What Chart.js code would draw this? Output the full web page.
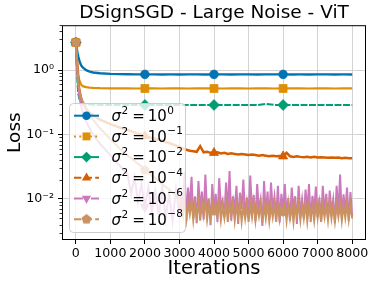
<!DOCTYPE html>
<html><head><meta charset="utf-8">
<script src="https://cdn.jsdelivr.net/npm/chart.js@4.4.0/dist/chart.umd.min.js"></script>
<style>html,body{margin:0;padding:0;background:#fff}</style>
</head><body>
<canvas id="c" width="374" height="286"></canvas>
<script>
// ---------------- DATA ----------------
const chartTitle = 'DSignSGD - Large Noise - ViT';
const xTitle = 'Iterations';
const yTitle = 'Loss';
const xTickValues = [0,1000,2000,3000,4000,5000,6000,7000,8000];
const xTickLabels = ['0','1000','2000','3000','4000','5000','6000','7000','8000'];
const yTickValues = [0.01,0.1,1];
const yTickLabels = ['10⁻²','10⁻¹','10⁰'];
const sigmaExponents = ['0','−1','−2','−4','−6','−8'];
const markerIters = [0,2000,4000,6000];

const itersSmooth = [0,25,50,75,100,150,200,300,400,500,700,1000,1250,1500,1750,2000,2250,2500,2750,3000,3250,3500,3750,4000,4250,4500,4750,5000,5250,5500,5750,6000,6250,6500,6750,7000,7250,7500,7750,8000];
const lossSigma1e0 = [2.7,2.2,1.85,1.6,1.42,1.2,1.1,1.0,0.95,0.92,0.895,0.875,0.868,0.865,0.862,0.86,0.862,0.858,0.861,0.859,0.862,0.86,0.858,0.86,0.861,0.859,0.862,0.86,0.858,0.861,0.86,0.86,0.859,0.861,0.858,0.86,0.861,0.859,0.86,0.858];
const lossSigma1e1 = [2.7,1.7,1.15,0.85,0.7,0.6,0.565,0.545,0.535,0.53,0.525,0.522,0.52,0.521,0.519,0.52,0.521,0.519,0.52,0.52,0.519,0.521,0.52,0.52,0.519,0.52,0.521,0.519,0.52,0.52,0.519,0.52,0.52,0.521,0.519,0.52,0.52,0.519,0.521,0.52];
const lossSigma1e2 = [2.7,1.2,0.6,0.42,0.36,0.32,0.305,0.295,0.292,0.29,0.289,0.289,0.288,0.289,0.288,0.288,0.289,0.288,0.287,0.289,0.288,0.287,0.288,0.288,0.289,0.287,0.288,0.288,0.287,0.3,0.288,0.288,0.287,0.288,0.287,0.288,0.288,0.287,0.288,0.287];

const itersMid = [0,25,50,75,100,150,200,300,400,500,700,1000,1250,1500,1750,2000,2250,2500,2750,3000,
3100,3200,3300,3400,3500,3600,3700,3800,3900,4000,4100,4200,4300,4400,4500,4600,4700,4800,4900,5000,
5100,5200,5300,5400,5500,5600,5700,5800,5900,6000,6100,6200,6300,6400,6500,6600,6700,6800,6900,7000,
7100,7200,7300,7400,7500,7600,7700,7800,7900,8000];
const lossSigma1e4 = [2.7,1.6,0.95,0.65,0.5,0.37,0.31,0.25,0.22,0.2,0.17,0.145,0.13,0.118,0.105,0.095,0.087,0.08,0.072,0.065,
0.061,0.058,0.056,0.055,0.054,0.066,0.053,0.054,0.052,0.052,0.053,0.051,0.052,0.05,0.051,0.05,0.049,0.05,0.049,0.048,
0.049,0.048,0.047,0.048,0.047,0.046,0.047,0.046,0.0465,0.046,0.052,0.046,0.045,0.046,0.045,0.0445,0.045,0.044,0.045,0.044,
0.0445,0.044,0.0435,0.044,0.0435,0.044,0.043,0.0435,0.043,0.043];

const itersFine = [0,25,50,75,100,150,200,300,400,500,700,1000,1250,
1500,1600,1700,1800,1900,2000,2100,2200,2300,2400,2500,2600,2700,2800,2900,3000,
3050,3100,3150,3200,3250,3300,3350,3400,3450,3500,3550,3600,3650,3700,3750,3800,3850,3900,3950,4000,
4050,4100,4150,4200,4250,4300,4350,4400,4450,4500,4550,4600,4650,4700,4750,4800,4850,4900,4950,5000,
5050,5100,5150,5200,5250,5300,5350,5400,5450,5500,5550,5600,5650,5700,5750,5800,5850,5900,5950,6000,
6050,6100,6150,6200,6250,6300,6350,6400,6450,6500,6550,6600,6650,6700,6750,6800,6850,6900,6950,7000,
7050,7100,7150,7200,7250,7300,7350,7400,7450,7500,7550,7600,7650,7700,7750,7800,7850,7900,7950,8000];
const lossSigma1e6 = [2.7,1.5,0.85,0.55,0.4,0.28,0.22,0.16,0.125,0.1,0.072,0.048,0.034,
0.024,0.012,0.022,0.009,0.017,0.0075,0.015,0.006,0.013,0.0055,0.016,0.005,0.012,0.0045,0.014,0.0058,
0.012,0.006,0.026,0.0045,0.015,0.007,0.022,0.005,0.011,0.0042,0.019,0.0065,0.013,0.0048,0.024,0.006,0.01,0.0039,0.017,0.0068,
0.012,0.0044,0.021,0.0075,0.0095,0.0052,0.018,0.0058,0.027,0.0046,0.011,0.0063,0.016,0.0041,0.0125,0.007,0.02,0.0049,0.0105,0.0057,
0.023,0.0062,0.0115,0.0045,0.017,0.0068,0.0098,0.0038,0.019,0.0055,0.013,0.0047,0.018,0.0066,0.0108,0.0052,0.016,0.0043,0.012,0.0064,
0.017,0.0056,0.0102,0.0046,0.015,0.0069,0.011,0.0041,0.016,0.0058,0.0098,0.0049,0.014,0.0062,0.017,0.0044,0.0112,0.0066,0.0155,0.0052,
0.0105,0.0045,0.016,0.006,0.012,0.0048,0.0135,0.0063,0.0098,0.0042,0.016,0.0057,0.024,0.005,0.0118,0.0061,0.015,0.0046,0.0128,0.0054];
const lossSigma1e8 = [2.7,1.7,1.0,0.65,0.5,0.38,0.32,0.26,0.21,0.17,0.125,0.085,0.062,
0.047,0.043,0.039,0.035,0.032,0.028,0.026,0.023,0.021,0.019,0.017,0.0155,0.014,0.0125,0.0112,0.0102,
0.0088,0.0055,0.0095,0.0049,0.0085,0.0058,0.0092,0.0047,0.0082,0.0053,0.009,0.0046,0.0086,0.0056,0.0094,0.0048,0.008,0.0052,0.0089,0.0065,
0.0084,0.0054,0.0091,0.0047,0.0079,0.0051,0.0087,0.0044,0.0083,0.0055,0.0088,0.0046,0.0081,0.0053,0.009,0.0045,0.0078,0.005,0.0086,0.0044,
0.0082,0.0052,0.0089,0.0046,0.0077,0.0054,0.0085,0.0043,0.008,0.005,0.0087,0.0045,0.0079,0.0052,0.0084,0.0044,0.0088,0.0049,0.0076,0.0064,
0.0083,0.0046,0.0086,0.0051,0.0078,0.0044,0.0082,0.0054,0.0087,0.0047,0.0079,0.005,0.0085,0.0045,0.0081,0.0053,0.0076,0.0046,0.0084,0.0051,
0.0086,0.0044,0.0078,0.0052,0.0083,0.0047,0.0088,0.005,0.0077,0.0045,0.0082,0.0053,0.0085,0.0046,0.0079,0.0051,0.0087,0.0048,0.0081,0.005];

const seriesColors = ['#0173b2','#de8f05','#029e73','#d55e00','#cc78bc','#ca9161'];

// ---------------- helpers ----------------
function pts(xs, ys){ return xs.map((x,i)=>({x:x,y:ys[i]})); }
function pentagon(color, r){
  const c=document.createElement('canvas'); const s=Math.ceil(2*r+2); c.width=s; c.height=s;
  const g=c.getContext('2d'); g.fillStyle=color; g.beginPath();
  for(let k=0;k<5;k++){const a=-Math.PI/2+k*2*Math.PI/5; const px=s/2+r*Math.cos(a), py=s/2+r*Math.sin(a); k?g.lineTo(px,py):g.moveTo(px,py);}
  g.closePath(); g.fill(); return c;
}
const pentaImg = pentagon(seriesColors[5], 5.2);

const styles = [
 {style:'circle', rot:0, r:4.3, plotDash:[], legendDash:[], bw:2.4},
 {style:'rect', rot:0, r:5.6, plotDash:[], legendDash:[2,3.3], bw:2.2},
 {style:'rectRot', rot:0, r:5.4, plotDash:[7,1.5], legendDash:[], bw:2},
 {style:'triangle', rot:0, r:5.3, plotDash:[], legendDash:[7.4,3.2], bw:2.5},
 {style:'triangle', rot:180, r:5.3, plotDash:[], legendDash:[9,3,2,3], bw:2},
 {style:pentaImg, rot:0, r:5, plotDash:[], legendDash:[7.4,3.2], bw:2}
];
const seriesData = [
 pts(itersSmooth,lossSigma1e0), pts(itersSmooth,lossSigma1e1), pts(itersSmooth,lossSigma1e2),
 pts(itersMid,lossSigma1e4), pts(itersFine,lossSigma1e6), pts(itersFine,lossSigma1e8)
];
const datasets = seriesData.map((d,i)=>({
  label:'σ² = 10'+sigmaExponents[i],
  data:d,
  borderColor:seriesColors[i], backgroundColor:seriesColors[i],
  borderWidth:styles[i].bw, borderDash:styles[i].plotDash,
  pointStyle:styles[i].style, pointRotation:styles[i].rot,
  pointRadius:(ctx)=> (ctx.raw && markerIters.includes(ctx.raw.x)) ? styles[i].r : 0,
  pointBorderWidth:0.8, pointBorderColor:seriesColors[i], pointBackgroundColor:seriesColors[i],
  tension:0, order:5-i, fill:false
}));

// ---------------- plugins ----------------
const framePlugin = {
  id:'frame',
  afterDatasetsDraw(chart){
    const {ctx, chartArea:a, scales} = chart;
    ctx.save();
    ctx.strokeStyle='#000'; ctx.lineWidth=1;
    ctx.strokeRect(a.left+0.5,a.top+0.5,a.right-a.left-1,a.bottom-a.top-1);
    const ys=scales.y; ctx.lineWidth=0.8; ctx.beginPath();
    for(let d=-3; d<=1; d++){ for(let k=2;k<=9;k++){ const v=k*Math.pow(10,d);
      if(v<ys.min||v>ys.max) continue; const py=Math.round(ys.getPixelForValue(v))+0.5;
      ctx.moveTo(a.left-2.5,py); ctx.lineTo(a.left,py);} }
    ctx.stroke();
    ctx.restore();
  }
};
function drawMarker(ctx, st, color, x, y){
  ctx.fillStyle=color;
  if(st.style instanceof HTMLCanvasElement){ ctx.drawImage(st.style, x-st.style.width/2, y-st.style.height/2); return; }
  const r=st.r; ctx.beginPath();
  if(st.style==='circle'){ ctx.arc(x,y,r,0,2*Math.PI); }
  else if(st.style==='rect'){ const h=r*Math.SQRT1_2; ctx.rect(x-h,y-h,2*h,2*h); }
  else if(st.style==='rectRot'){ ctx.moveTo(x,y-r); ctx.lineTo(x+r,y); ctx.lineTo(x,y+r); ctx.lineTo(x-r,y); ctx.closePath(); }
  else if(st.style==='triangle'){
    const s = st.rot===180 ? -1 : 1;
    for(let k=0;k<3;k++){ const a=-Math.PI/2+k*2*Math.PI/3; const px=x+r*Math.cos(a), py=y+s*r*Math.sin(a); k?ctx.lineTo(px,py):ctx.moveTo(px,py);} ctx.closePath();
  }
  ctx.fill();
}
const legendPlugin = {
  id:'innerLegend',
  afterDraw(chart){
    const ctx=chart.ctx; ctx.save();
    const x0=69.5,y0=103.5,w=116,h=129;
    ctx.beginPath(); ctx.roundRect(x0,y0,w,h,4);
    ctx.fillStyle='rgba(255,255,255,0.8)'; ctx.fill();
    ctx.strokeStyle='#cccccc'; ctx.lineWidth=1; ctx.stroke();
    chart.data.datasets.forEach((ds,i)=>{
      const cy=115.7+i*20.7;
      ctx.setLineDash(styles[i].legendDash); ctx.strokeStyle=ds.borderColor; ctx.lineWidth=2;
      ctx.beginPath(); ctx.moveTo(74,cy); ctx.lineTo(99,cy); ctx.stroke(); ctx.setLineDash([]);
      drawMarker(ctx, styles[i], seriesColors[i], 86.5, cy);
      const base=cy+5.3; let tx=111.5;
      ctx.fillStyle='#000'; ctx.textBaseline='alphabetic'; ctx.textAlign='left';
      ctx.font='italic 15px "DejaVu Sans"'; ctx.fillText('σ',tx,base); tx+=ctx.measureText('σ').width+0.5;
      ctx.font='10.5px "DejaVu Sans"'; ctx.fillText('2',tx,base-7); tx+=ctx.measureText('2').width+4;
      ctx.font='15px "DejaVu Sans"'; ctx.fillText('=',tx,base); tx+=ctx.measureText('=').width+3;
      ctx.fillText('10',tx,base); tx+=ctx.measureText('10').width+0.5;
      ctx.font='10.5px "DejaVu Sans"'; ctx.fillText(sigmaExponents[i],tx,base-7.5);
    });
    ctx.restore();
  }
};

// ---------------- chart ----------------
new Chart(document.getElementById('c'), {
  type:'line',
  data:{datasets:datasets},
  options:{
    responsive:false, animation:false, devicePixelRatio:1,
    layout:{padding:{left:0,right:8,top:0,bottom:0}},
    plugins:{
      legend:{display:false}, tooltip:{enabled:false},
      title:{display:true, fullSize:false, text:chartTitle, color:'#000', font:{family:'DejaVu Sans', size:18.5, weight:'normal'}, padding:{top:2,bottom:1}}
    },
    scales:{
      x:{type:'linear', min:-400, max:8400,
        afterBuildTicks:(s)=>{ s.ticks = xTickValues.map(v=>({value:v})); },
        afterFit:(s)=>{ s.height=46; s.paddingRight=0; s.paddingLeft=0; },
        ticks:{autoSkip:false, maxRotation:0, padding:2, color:'#000', font:{family:'DejaVu Sans', size:12.6},
          callback:(v)=>{ const i=xTickValues.indexOf(v); return i>=0 ? xTickLabels[i] : ''; }},
        grid:{color:'#d3d3d3', tickColor:'#000', tickLength:4, drawTicks:true},
        border:{display:false},
        title:{display:true, text:xTitle, color:'#000', font:{family:'DejaVu Sans', size:19.5}, padding:{top:5,bottom:5}}
      },
      y:{type:'logarithmic', min:0.0023, max:5.0,
        afterBuildTicks:(s)=>{ s.ticks = yTickValues.map(v=>({value:v, major:true})); },
        afterFit:(s)=>{ s.width=62; },
        ticks:{autoSkip:false, padding:4, color:'#000', font:{family:'DejaVu Sans', size:12.6},
          callback:(v)=>{ const i=yTickValues.indexOf(v); return i>=0 ? yTickLabels[i] : ''; }},
        grid:{color:'#d3d3d3', tickColor:'#000', tickLength:4, drawTicks:true},
        border:{display:false},
        title:{display:true, text:yTitle, color:'#000', font:{family:'DejaVu Sans', size:18.5}, padding:{top:4,bottom:4}}
      }
    }
  },
  plugins:[framePlugin, legendPlugin]
});
</script>
</body></html>
